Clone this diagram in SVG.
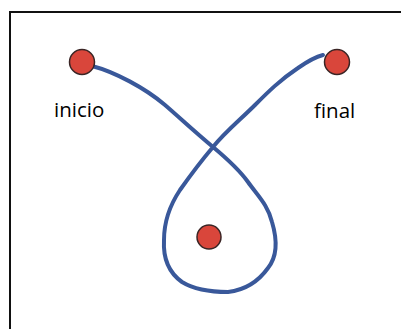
<svg xmlns="http://www.w3.org/2000/svg" width="401" height="329" viewBox="0 0 401 329">
<style>
.dot{fill:#d9463b;stroke:#3a2525;stroke-width:1.5}
.lbl{font-family:"Open Sans","Liberation Sans",sans-serif;font-size:20.5px;fill:#000}
.path{fill:none;stroke:#39589a;stroke-width:4;stroke-linecap:round;stroke-linejoin:round}
</style>
<rect x="0" y="0" width="401" height="329" fill="#fff"/>
<rect x="10" y="12" width="400" height="330" fill="none" stroke="#111" stroke-width="2"/>
<g id="connectors">
<path class="path" d="M92,66 C115,72 145,88 165,105 C180,118 195,132 213,147 C225,157 238,168 248,182 C258,196 268,205 272,222 C278,242 276,258 268,268 C258,282 245,290 228,292 C212,292 195,290 182,282 C168,272 163,258 164,240 C164,222 170,205 180,190 C192,173 202,160 213,147 C225,132 240,120 255,105 C268,92 280,80 298,68 C308,61 315,57 323,55"/>
</g>
<g id="inicio">
<circle class="dot" cx="82" cy="62" r="12.5"/>
<text class="lbl" x="54" y="117">inicio</text>
</g>
<g id="final">
<circle class="dot" cx="337" cy="62" r="12.5"/>
<text class="lbl" x="314" y="118">final</text>
</g>
<g id="centro">
<circle class="dot" cx="209" cy="237" r="12"/>
</g>
</svg>
